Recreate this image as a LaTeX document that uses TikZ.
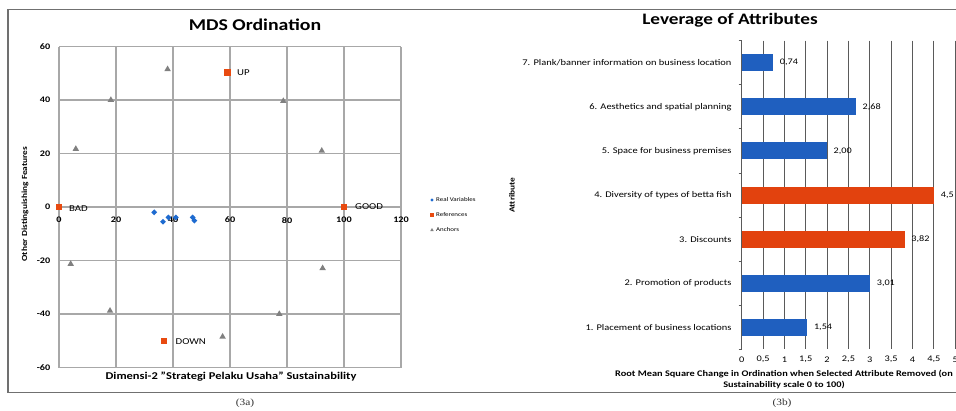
\documentclass[tikz,border=0pt]{standalone}
\usepackage{fontspec}
\setmainfont{Carlito}[FakeStretch=1.2]
\newfontfamily\capfont{Liberation Serif}[FakeStretch=1.2]
\usetikzlibrary{shapes.geometric}
\definecolor{gridL}{HTML}{A8A8A8}
\definecolor{gridR}{HTML}{5A5A5A}
\definecolor{frameC}{HTML}{707070}
\definecolor{barblue}{HTML}{1F5FBF}
\definecolor{barorange}{HTML}{E2420E}
\definecolor{ptblue}{HTML}{1E6BD0}
\definecolor{refor}{HTML}{E84A10}
\definecolor{anch}{HTML}{808080}
\tikzset{
  fs/.style={font=\fontsize{#1}{#1}\selectfont},
  fsb/.style={font=\fontsize{#1}{#1}\selectfont\bfseries},
  caplabel/.style={font=\capfont\fontsize{9.5}{9.5}\selectfont, text=black!80},
  anchorpt/.style={regular polygon, regular polygon sides=3, fill=anch, minimum size=7.5pt, inner sep=0pt},
  refpt/.style={rectangle, fill=refor, minimum size=6.5pt, inner sep=0pt},
  varpt/.style={diamond, fill=ptblue, minimum size=6pt, inner sep=0pt},
  ptlabel/.style={fs=9, anchor=west, inner sep=0pt},
  glineL/.style={draw=gridL, line width=1.1pt},
  glineR/.style={draw=gridR, line width=0.8pt},
  catlabel/.style={fs=8.7, anchor=east, inner sep=0pt},
  vallabel/.style={fs=8.5, anchor=west, inner sep=0pt},
}
\begin{document}
\begin{tikzpicture}[x=1pt,y=-1pt]
\path[use as bounding box] (0,0) rectangle (956,410);
\clip (0,0) rectangle (956,410);
\fill[white] (0,0) rectangle (956,410);
% frame
\draw[frameC, line width=1.5pt] (970,9.5) -- (8,9.5) -- (8,392.5) -- (970,392.5);

% ================= Left: MDS Ordination =================
\node[fsb=16.5] (titleL) at (255,25) {MDS Ordination};
\begin{scope}[shift={(59,207)}, x={(2.85pt,0pt)}, y={(0pt,2.675pt)}]
  \foreach \gx in {0,20,...,120} \draw[glineL] (\gx,-60) -- (\gx,60);
  \foreach \gy in {-60,-40,...,60} \draw[glineL] (0,\gy) -- (120,\gy);
  \foreach \gy in {-60,-40,-20,0,20,40,60}
    \node[fsb=8.5, anchor=east, inner sep=0pt] (yt\gy) at (-3,\gy) {\gy};
  \foreach \gx in {0,20,40,60,80,100,120}
    \node[fsb=8.5, inner sep=0pt] (xt\gx) at (\gx,-4.9) {\gx};
  % anchors
  \node[anchorpt] (a1) at (5.9,21.7) {};
  \node[anchorpt] (a2) at (18.2,40) {};
  \node[anchorpt] (a3) at (38.1,51.5) {};
  \node[anchorpt] (a4) at (78.7,39.6) {};
  \node[anchorpt] (a5) at (92.2,21) {};
  \node[anchorpt] (a6) at (4.1,-21.3) {};
  \node[anchorpt] (a7) at (17.9,-38.8) {};
  \node[anchorpt] (a8) at (57.4,-48.5) {};
  \node[anchorpt] (a9) at (77.3,-40) {};
  \node[anchorpt] (a10) at (92.5,-22.9) {};
  % references
  \node[refpt] (bad) at (0,0) {};
  \node[refpt] (good) at (100,0) {};
  \node[refpt] (up) at (59.2,50.2) {};
  \node[refpt] (down) at (36.9,-50) {};
  % real variables
  \node[varpt] (v1) at (33.4,-2) {};
  \node[varpt] (v2) at (36.5,-5.5) {};
  \node[varpt] (v3) at (38.4,-3.9) {};
  \node[varpt] (v4) at (41,-3.9) {};
  \node[varpt] (v5) at (46.9,-3.9) {};
  \node[varpt] (v6) at (47.5,-5.1) {};
\end{scope}
\node[ptlabel] (lbad) at (69,209) {BAD};
\node[ptlabel] (lgood) at (355,207) {GOOD};
\node[ptlabel] (lup) at (237,73) {UP};
\node[ptlabel] (ldown) at (175.5,342) {DOWN};
\node[fsb=10.4] (xtitleL) at (231,377) {Dimensi-2 "Strategi Pelaku Usaha" Sustainability};
\node[fsb=7.8, rotate=90] (ytitleL) at (25,204) {Other Distinguishing Features};
% legend
\node[varpt, minimum size=3.5pt] (lg1m) at (432,200) {};
\node[fs=5.8, anchor=west, inner sep=0pt] (lg1) at (436,200) {Real Variables};
\node[refpt, minimum size=4pt] (lg2m) at (432,215) {};
\node[fs=5.8, anchor=west, inner sep=0pt] (lg2) at (436,215) {References};
\node[anchorpt, minimum size=4pt] (lg3m) at (432,230) {};
\node[fs=5.8, anchor=west, inner sep=0pt] (lg3) at (436,230) {Anchors};
\node[caplabel] (capA) at (245,403) {(3a)};

% ================= Right: Leverage =================
\node[fsb=16] (titleR) at (730,20) {Leverage of Attributes};
\begin{scope}[shift={(741.7,0)}, x=42.7pt]
  \foreach \gx in {0.5,1,...,5} \draw[glineR] (\gx,40.7) -- (\gx,349.3);
  \draw[glineR] (0,40.7) -- (0,349.3);
  \foreach \k in {0,...,7} \draw[glineR] (-3pt,40.7+44.09*\k) -- (0,40.7+44.09*\k);
  % bars (top to bottom: 7..1)
  \fill[barblue]   (0,62.7-8.5)  rectangle (0.74,62.7+8.5);
  \fill[barblue]   (0,106.8-8.5) rectangle (2.68,106.8+8.5);
  \fill[barblue]   (0,150.9-8.5) rectangle (2.00,150.9+8.5);
  \fill[barorange] (0,195.0-8.5) rectangle (4.50,195.0+8.5);
  \fill[barorange] (0,239.1-8.5) rectangle (3.82,239.1+8.5);
  \fill[barblue]   (0,283.2-8.5) rectangle (3.01,283.2+8.5);
  \fill[barblue]   (0,327.3-8.5) rectangle (1.54,327.3+8.5);
  \node[vallabel] (val7) at (0.74+0.15,62.7) {0,74};
  \node[vallabel] (val6) at (2.68+0.15,106.8) {2,68};
  \node[vallabel] (val5) at (2.00+0.15,150.9) {2,00};
  \node[vallabel] (val4) at (4.50+0.16,195.0) {4,5};
  \node[vallabel] (val3) at (3.82+0.15,239.1) {3,82};
  \node[vallabel] (val2) at (3.01+0.15,283.2) {3,01};
  \node[vallabel] (val1) at (1.54+0.15,327.3) {1,54};
  \node[catlabel] (cat7) at (-10pt,62.7) {7. Plank/banner information on business location};
  \node[catlabel] (cat6) at (-10pt,106.8) {6. Aesthetics and spatial planning};
  \node[catlabel] (cat5) at (-10pt,150.9) {5. Space for business premises};
  \node[catlabel] (cat4) at (-10pt,195.0) {4. Diversity of types of betta fish};
  \node[catlabel] (cat3) at (-10pt,239.1) {3. Discounts};
  \node[catlabel] (cat2) at (-10pt,283.2) {2. Promotion of products};
  \node[catlabel] (cat1) at (-10pt,327.3) {1. Placement of business locations};
  \foreach \gx/\gl/\nm in {0/0/t0,0.5/{0,5}/t1,1/1/t2,1.5/{1,5}/t3,2/2/t4,2.5/{2,5}/t5,3/3/t6,3.5/{3,5}/t7,4/4/t8,4.5/{4,5}/t9,5/5/t10}
    \node[fs=8.6, inner sep=0pt] (\nm) at (\gx,359.3) {\gl};
\end{scope}
\node[fsb=7.8, rotate=90] (ytitleR) at (512,195) {Attribute};
\node[fsb=8.6, align=center] (xtitleR) at (784,379.5) {Root Mean Square Change in Ordination when Selected Attribute Removed (on\\[1.5pt] Sustainability scale 0 to 100)};
\node[caplabel] (capB) at (782,403) {(3b)};
\end{tikzpicture}
\end{document}
